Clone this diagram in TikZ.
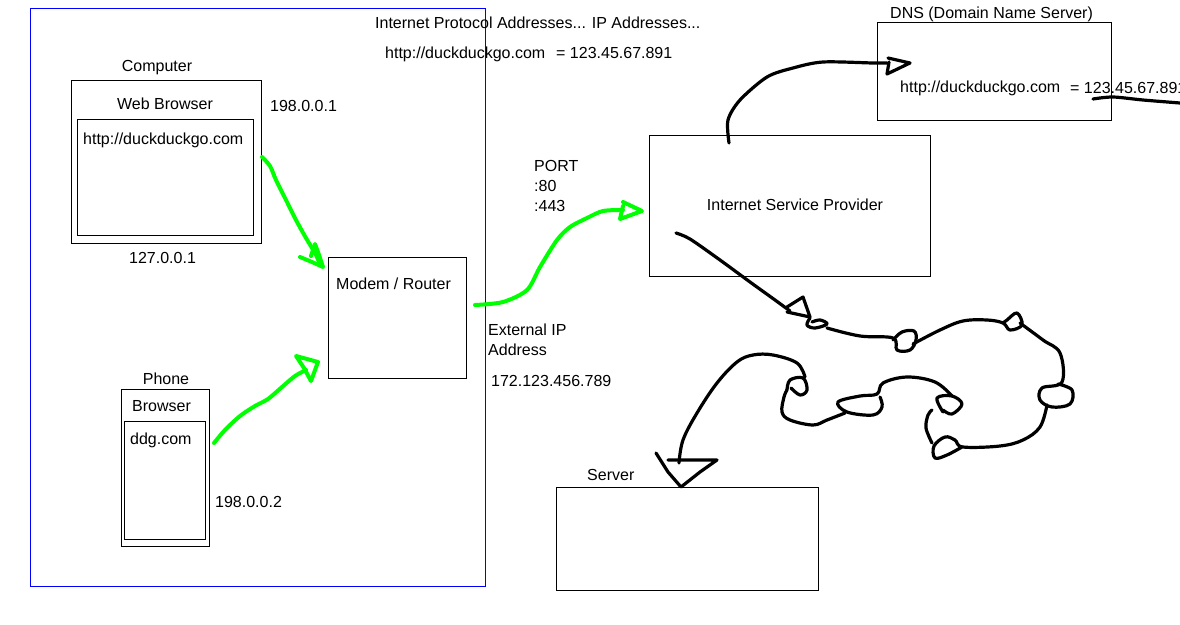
\documentclass[tikz,border=0pt]{standalone}
\usepackage{fontspec}
\setmainfont{Liberation Sans}
\begin{document}
\begin{tikzpicture}[x=1pt,y=-1pt,
  txt/.style={inner sep=0pt,font=\fontsize{16}{19}\selectfont},
  bx/.style={draw=black,line width=1pt},
  green/.style={draw={rgb,255:red,0;green,255;blue,0},line width=4pt,line cap=round,line join=round},
  scrib/.style={draw=black,line width=3.2pt,line cap=round,line join=round}]
\useasboundingbox (0,0) rectangle (1180,624);
\fill[white] (0,0) rectangle (1180,624);
% boxes
\draw[draw=blue,line width=1pt] (30,8) rectangle (485,586);
\draw[bx] (71,80) rectangle (261,243);
\draw[bx] (77,119) rectangle (253,235);
\draw[bx] (328,257) rectangle (466,378);
\draw[bx] (121,389) rectangle (209,546);
\draw[bx] (124,421) rectangle (205,539);
\draw[bx] (649,135) rectangle (930,276);
\draw[bx] (877,22) rectangle (1111,120);
\draw[bx] (556,487) rectangle (818,590);
% texts
\node[txt,anchor=base west] (t1) at (375,28) {Internet Protocol Addresses... IP Addresses...};
\node[txt,anchor=base west] (t2) at (385,58) {http://duckduckgo.com};
\node[txt,anchor=base west] (t3) at (556,58) {= 123.45.67.891};
\node[txt,anchor=base] (comp) at (157,71) {Computer};
\node[txt,anchor=base] (wb) at (165,109) {Web Browser};
\node[txt,anchor=base west] (url1) at (83,144) {http://duckduckgo.com};
\node[txt,anchor=base west] (ip1) at (270,111) {198.0.0.1};
\node[txt,anchor=base west] (lo) at (129,263) {127.0.0.1};
\node[txt,anchor=base west] (modem) at (336,289) {Modem / Router};
\node[txt,anchor=base west] (ext1) at (488,335) {External IP};
\node[txt,anchor=base west] (ext2) at (488,355) {Address};
\node[txt,anchor=base west] (extip) at (491,386) {172.123.456.789};
\node[txt,anchor=base] (phone) at (166,384) {Phone};
\node[txt,anchor=base west] (br) at (132,411) {Browser};
\node[txt,anchor=base west] (ddg) at (130,444) {ddg.com};
\node[txt,anchor=base west] (ip2) at (215,507) {198.0.0.2};
\node[txt,anchor=base west] (port) at (534,171) {PORT};
\node[txt,anchor=base west] (p80) at (534,191) {:80};
\node[txt,anchor=base west] (p443) at (534,211) {:443};
\node[txt,anchor=base] (isp) at (795,210) {Internet Service Provider};
\node[txt,anchor=base west] (dns) at (890,18) {DNS (Domain Name Server)};
\node[txt,anchor=base west] (url2) at (900,92) {http://duckduckgo.com};
\node[txt,anchor=base west] (dnsip) at (1070,93) {= 123.45.67.891};
\node[txt,anchor=base west] (srv) at (587,480) {Server};
% green arrows
\draw[green] plot[smooth] coordinates {(262,157) (270,166) (276,180) (286,200) (296,220) (306,238) (315,253) (320,264)};
\draw[green] (300,257) -- (312,262) -- (323,267) -- (318,252) -- (315,244) -- (311,256);
\draw[green] plot[smooth] coordinates {(214,443) (225,430) (240,416) (255,406) (268,399) (282,387) (295,376) (306,370)};
\draw[green] (296,356) -- (318,362) -- (311,381) -- (304,368) -- cycle;
\draw[green] plot[smooth] coordinates {(475,305) (503,302) (527,290) (540,267) (557,240) (570,227) (587,218) (603,211) (623,210)};
\draw[green] (623,202) -- (642,211) -- (620,219) -- (623,206);
% black scribbles
\draw[scrib] plot[smooth] coordinates {(729,143) (728,120) (740,100) (767,77) (793,68) (823,62) (873,63) (887,63)};
\draw[scrib] (888,58) -- (910,63) -- (887,74) -- (889,62);
\draw[scrib] plot[smooth] coordinates {(1093,99) (1113,97) (1143,100) (1180,103)};
\draw[scrib] plot[smooth] coordinates {(676,233) (690,239) (720,260) (750,282) (775,300) (790,311)};
\draw[scrib] (787,307) -- (803,297) -- (810,317) -- (787,312);
\draw[scrib] plot[smooth,tension=0.6] coordinates {(810,318) (807,325) (815,328) (827,324) (820,320) (812,322)};
\draw[scrib] plot[smooth,tension=0.6] coordinates {(827,328) (860,336) (893,338) (897,350) (910,350) (916,340) (914,331) (902,332) (893,340)};
\draw[scrib] plot[smooth,tension=0.6] coordinates {(913,344) (940,330) (963,321) (987,320) (1003,323) (1010,330) (1022,325) (1017,313) (1007,320) (1003,323)};
\draw[scrib] plot[smooth,tension=0.6] coordinates {(1020,323) (1043,340) (1060,353) (1062,382) (1042,388) (1040,400) (1052,407) (1070,404) (1072,390) (1058,384)};
\draw[scrib] plot[smooth,tension=0.6] coordinates {(1047,405) (1040,427) (1023,440) (1000,446) (963,447) (955,440) (945,437) (934,446) (935,458) (947,455) (962,447)};
\draw[scrib] plot[smooth,tension=0.6] coordinates {(932,443) (926,428) (928,415) (932,410)};
\draw[scrib] plot[smooth,tension=0.6] coordinates {(943,412) (937,398) (952,396) (962,404) (952,414) (943,410)};
\draw[scrib] plot[smooth,tension=0.6] coordinates {(952,396) (935,382) (907,377) (883,383) (877,394) (860,396) (838,402) (847,412) (873,415) (882,407) (880,397)};
\draw[scrib] plot[smooth,tension=0.6] coordinates {(845,413) (827,420) (813,425) (790,420) (782,412) (784,397) (787,390)};
\draw[scrib] plot[smooth,tension=0.6] coordinates {(787,390) (790,380) (803,378) (807,390) (800,395) (791,388)};
\draw[scrib] plot[smooth,tension=0.6] coordinates {(805,377) (797,363) (773,355) (753,355) (737,362) (717,383) (697,413) (683,440) (679,463)};
\draw[scrib] (656,453) -- (668,472) -- (681,487) -- (700,472) -- (717,460) -- (668,460);
\end{tikzpicture}
\end{document}
